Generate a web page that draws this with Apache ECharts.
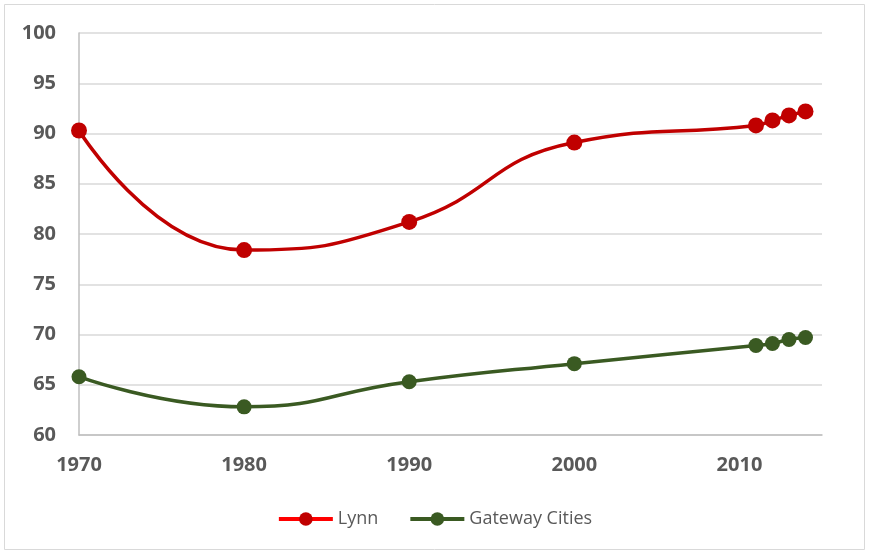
<!DOCTYPE html>
<html><head><meta charset="utf-8">
<script src="https://cdn.jsdelivr.net/npm/echarts@6/dist/echarts.min.js"></script>
<style>html,body{margin:0;padding:0;background:#fff}#c{width:869px;height:554px}</style>
</head><body><div id="c"></div>
<script>
const years = [1970, 1980, 1990, 2000, 2011, 2012, 2013, 2014];
const lynn = [90.3, 78.4, 81.2, 89.1, 90.8, 91.3, 91.8, 92.2];
const gateway = [65.8, 62.8, 65.3, 67.1, 68.9, 69.1, 69.5, 69.7];
const xTicks = [1970, 1980, 1990, 2000, 2010];
const yTicks = [60, 65, 70, 75, 80, 85, 90, 95, 100];

const chart = echarts.init(document.getElementById('c'));
const font = 'Open Sans, Liberation Sans, sans-serif';
chart.setOption({
  animation: false,
  graphic: [{type: 'rect', shape: {x: 4.5, y: 4.5, width: 860, height: 545}, style: {fill: 'none', stroke: '#d9d9d9', lineWidth: 1}}],
  grid: {left: 79, right: 47, top: 33, bottom: 119, containLabel: false},
  xAxis: {
    type: 'value', min: 1970, max: 2015, interval: 10,
    axisLine: {show: true, lineStyle: {color: '#bfbfbf', width: 1.5}}, axisTick: {show: false}, splitLine: {show: false},
    axisLabel: {
      color: '#595959', fontWeight: 'bold', fontSize: 20, fontFamily: font, margin: 20,
      formatter: v => xTicks.includes(v) ? String(v) : ''
    }
  },
  yAxis: {
    type: 'value', min: 60, max: 100, interval: 5,
    axisLine: {show: true, lineStyle: {color: '#bfbfbf', width: 1.5}},
    axisTick: {show: false},
    splitLine: {lineStyle: {color: '#d9d9d9', width: 1.5}},
    axisLabel: {color: '#595959', fontWeight: 'bold', fontSize: 20, fontFamily: font, margin: 23,
      formatter: v => yTicks.includes(v) ? String(v) : ''}
  },
  legend: {
    bottom: 21, left: 'center', itemWidth: 54, itemHeight: 17, itemGap: 30,
    textStyle: {color: '#595959', fontSize: 18, fontFamily: font},
    lineStyle: {width: 4},
    data: [{name: 'Lynn', lineStyle: {color: '#FF0000', width: 4}}, {name: 'Gateway Cities', lineStyle: {width: 4}}]
  },
  series: [
    {name: 'Lynn', type: 'line', smooth: 0.5, symbol: 'circle', symbolSize: 16,
      lineStyle: {color: '#C00000', width: 3.5}, itemStyle: {color: '#C00000'},
      data: years.map((y, i) => [y, lynn[i]])},
    {name: 'Gateway Cities', type: 'line', smooth: 0.5, symbol: 'circle', symbolSize: 15,
      lineStyle: {color: '#3A5A22', width: 3.5}, itemStyle: {color: '#3A5A22'},
      data: years.map((y, i) => [y, gateway[i]])}
  ]
});
</script></body></html>
